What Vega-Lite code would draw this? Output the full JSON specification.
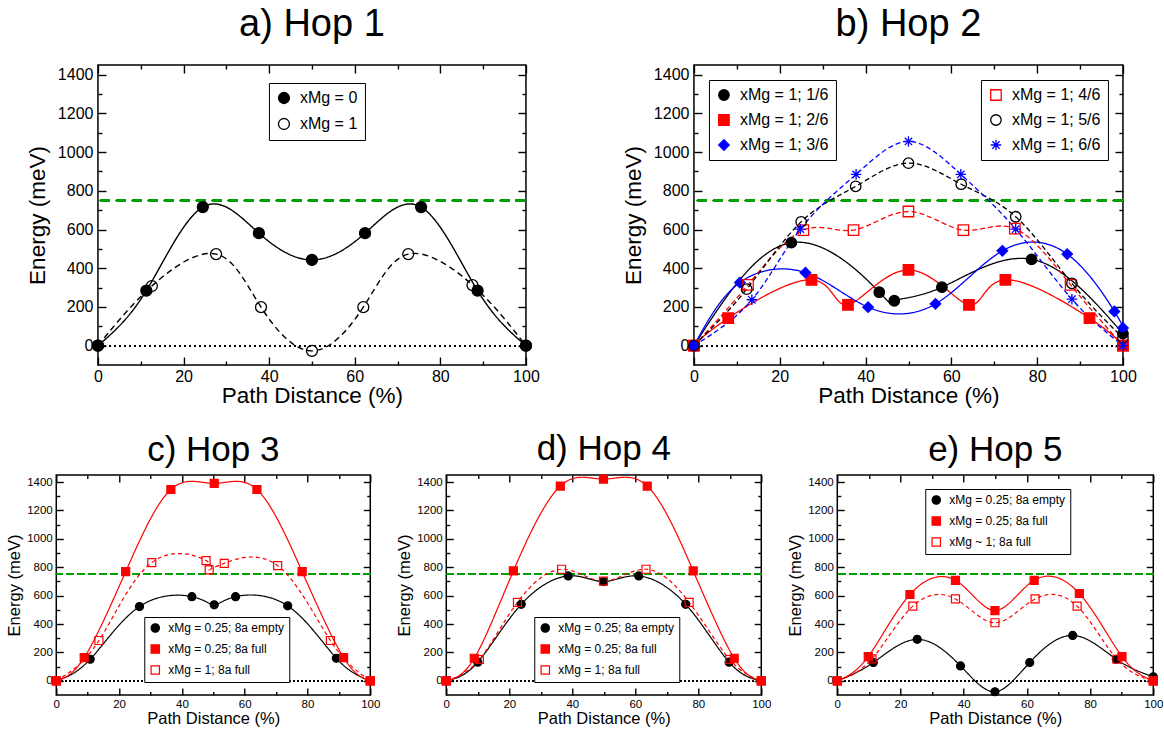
{
"$schema": "https://vega.github.io/schema/vega-lite/v6.json",
"padding": 5,
"background": "white",
"config": {
  "font": "Liberation Sans",
  "view": {"stroke": "black", "strokeWidth": 1.5},
  "axis": {"domain": false, "grid": false, "labelColor": "black", "titleColor": "black", "tickColor": "black", "tickWidth": 1.4, "titleFontWeight": "normal", "labelFont": "Liberation Sans", "titleFont": "Liberation Sans"},
  "legend": {"labelFont": "Liberation Sans", "labelColor": "black", "strokeColor": "black", "fillColor": "white"},
  "title": {"font": "Liberation Sans", "fontWeight": "normal", "color": "black"}
},
"datasets": {
  "pts": [
    {"p":"a","s":"xMg = 0","x":0,"y":0},{"p":"a","s":"xMg = 0","x":11.3,"y":284},{"p":"a","s":"xMg = 0","x":24.5,"y":716},{"p":"a","s":"xMg = 0","x":37.6,"y":581},{"p":"a","s":"xMg = 0","x":50,"y":443},{"p":"a","s":"xMg = 0","x":62.4,"y":581},{"p":"a","s":"xMg = 0","x":75.5,"y":716},{"p":"a","s":"xMg = 0","x":88.7,"y":284},{"p":"a","s":"xMg = 0","x":100,"y":0},
    {"p":"a","s":"xMg = 1","x":0,"y":0},{"p":"a","s":"xMg = 1","x":12.6,"y":308},{"p":"a","s":"xMg = 1","x":27.6,"y":473},{"p":"a","s":"xMg = 1","x":38.1,"y":199},{"p":"a","s":"xMg = 1","x":50,"y":-27},{"p":"a","s":"xMg = 1","x":62,"y":199},{"p":"a","s":"xMg = 1","x":72.5,"y":473},{"p":"a","s":"xMg = 1","x":87.5,"y":313},{"p":"a","s":"xMg = 1","x":100,"y":0},

    {"p":"b","s":"xMg = 1; 1/6","x":0,"y":0},{"p":"b","s":"xMg = 1; 1/6","x":22.7,"y":532},{"p":"b","s":"xMg = 1; 1/6","x":43.2,"y":276},{"p":"b","s":"xMg = 1; 1/6","x":46.7,"y":232},{"p":"b","s":"xMg = 1; 1/6","x":57.8,"y":302},{"p":"b","s":"xMg = 1; 1/6","x":78.7,"y":446},{"p":"b","s":"xMg = 1; 1/6","x":100,"y":62},
    {"p":"b","s":"xMg = 1; 2/6","x":0,"y":0},{"p":"b","s":"xMg = 1; 2/6","x":8,"y":142},{"p":"b","s":"xMg = 1; 2/6","x":27.4,"y":340},{"p":"b","s":"xMg = 1; 2/6","x":35.9,"y":211},{"p":"b","s":"xMg = 1; 2/6","x":50,"y":391},{"p":"b","s":"xMg = 1; 2/6","x":64.1,"y":211},{"p":"b","s":"xMg = 1; 2/6","x":72.6,"y":340},{"p":"b","s":"xMg = 1; 2/6","x":92.2,"y":142},{"p":"b","s":"xMg = 1; 2/6","x":100,"y":0},
    {"p":"b","s":"xMg = 1; 3/6","x":0,"y":0},{"p":"b","s":"xMg = 1; 3/6","x":10.7,"y":326},{"p":"b","s":"xMg = 1; 3/6","x":26,"y":377},{"p":"b","s":"xMg = 1; 3/6","x":40.6,"y":199},{"p":"b","s":"xMg = 1; 3/6","x":56.3,"y":216},{"p":"b","s":"xMg = 1; 3/6","x":71.9,"y":490},{"p":"b","s":"xMg = 1; 3/6","x":87,"y":473},{"p":"b","s":"xMg = 1; 3/6","x":98,"y":177},{"p":"b","s":"xMg = 1; 3/6","x":100,"y":91},
    {"p":"b","s":"xMg = 1; 4/6","x":0,"y":0},{"p":"b","s":"xMg = 1; 4/6","x":12.6,"y":314},{"p":"b","s":"xMg = 1; 4/6","x":25.5,"y":597},{"p":"b","s":"xMg = 1; 4/6","x":37.2,"y":597},{"p":"b","s":"xMg = 1; 4/6","x":50,"y":693},{"p":"b","s":"xMg = 1; 4/6","x":62.8,"y":597},{"p":"b","s":"xMg = 1; 4/6","x":74.8,"y":605},{"p":"b","s":"xMg = 1; 4/6","x":87.8,"y":314},{"p":"b","s":"xMg = 1; 4/6","x":100,"y":0},
    {"p":"b","s":"xMg = 1; 5/6","x":0,"y":0},{"p":"b","s":"xMg = 1; 5/6","x":12.3,"y":292},{"p":"b","s":"xMg = 1; 5/6","x":25,"y":640},{"p":"b","s":"xMg = 1; 5/6","x":37.7,"y":823},{"p":"b","s":"xMg = 1; 5/6","x":50,"y":943},{"p":"b","s":"xMg = 1; 5/6","x":62.3,"y":834},{"p":"b","s":"xMg = 1; 5/6","x":75,"y":666},{"p":"b","s":"xMg = 1; 5/6","x":88.1,"y":322},{"p":"b","s":"xMg = 1; 5/6","x":100,"y":40},
    {"p":"b","s":"xMg = 1; 6/6","x":0,"y":0},{"p":"b","s":"xMg = 1; 6/6","x":13.5,"y":237},{"p":"b","s":"xMg = 1; 6/6","x":24.8,"y":602},{"p":"b","s":"xMg = 1; 6/6","x":37.8,"y":885},{"p":"b","s":"xMg = 1; 6/6","x":50,"y":1055},{"p":"b","s":"xMg = 1; 6/6","x":62.2,"y":885},{"p":"b","s":"xMg = 1; 6/6","x":75,"y":602},{"p":"b","s":"xMg = 1; 6/6","x":88.1,"y":240},{"p":"b","s":"xMg = 1; 6/6","x":100,"y":0},

    {"p":"c","s":"xMg = 0.25; 8a empty","x":0,"y":0},{"p":"c","s":"xMg = 0.25; 8a empty","x":10.8,"y":152},{"p":"c","s":"xMg = 0.25; 8a empty","x":26.5,"y":523},{"p":"c","s":"xMg = 0.25; 8a empty","x":43.2,"y":593},{"p":"c","s":"xMg = 0.25; 8a empty","x":50.3,"y":535},{"p":"c","s":"xMg = 0.25; 8a empty","x":57.1,"y":593},{"p":"c","s":"xMg = 0.25; 8a empty","x":73.7,"y":528},{"p":"c","s":"xMg = 0.25; 8a empty","x":89.2,"y":159},{"p":"c","s":"xMg = 0.25; 8a empty","x":100,"y":0},
    {"p":"c","s":"xMg = 0.25; 8a full","x":0,"y":0},{"p":"c","s":"xMg = 0.25; 8a full","x":8.9,"y":164},{"p":"c","s":"xMg = 0.25; 8a full","x":22.1,"y":769},{"p":"c","s":"xMg = 0.25; 8a full","x":36.5,"y":1348},{"p":"c","s":"xMg = 0.25; 8a full","x":50.3,"y":1391},{"p":"c","s":"xMg = 0.25; 8a full","x":63.9,"y":1348},{"p":"c","s":"xMg = 0.25; 8a full","x":78.3,"y":769},{"p":"c","s":"xMg = 0.25; 8a full","x":91.5,"y":164},{"p":"c","s":"xMg = 0.25; 8a full","x":100,"y":0},
    {"p":"c","s":"xMg = 1; 8a full","x":0,"y":0},{"p":"c","s":"xMg = 1; 8a full","x":13.6,"y":284},{"p":"c","s":"xMg = 1; 8a full","x":30.4,"y":833},{"p":"c","s":"xMg = 1; 8a full","x":47.7,"y":847},{"p":"c","s":"xMg = 1; 8a full","x":48.7,"y":781},{"p":"c","s":"xMg = 1; 8a full","x":53.5,"y":828},{"p":"c","s":"xMg = 1; 8a full","x":70.5,"y":811},{"p":"c","s":"xMg = 1; 8a full","x":87.3,"y":284},{"p":"c","s":"xMg = 1; 8a full","x":100,"y":0},

    {"p":"d","s":"xMg = 0.25; 8a empty","x":0,"y":0},{"p":"d","s":"xMg = 0.25; 8a empty","x":10,"y":131},{"p":"d","s":"xMg = 0.25; 8a empty","x":23.8,"y":539},{"p":"d","s":"xMg = 0.25; 8a empty","x":38.7,"y":739},{"p":"d","s":"xMg = 0.25; 8a empty","x":49.9,"y":699},{"p":"d","s":"xMg = 0.25; 8a empty","x":61.1,"y":739},{"p":"d","s":"xMg = 0.25; 8a empty","x":76,"y":539},{"p":"d","s":"xMg = 0.25; 8a empty","x":89.8,"y":131},{"p":"d","s":"xMg = 0.25; 8a empty","x":100,"y":0},
    {"p":"d","s":"xMg = 0.25; 8a full","x":0,"y":0},{"p":"d","s":"xMg = 0.25; 8a full","x":8.9,"y":159},{"p":"d","s":"xMg = 0.25; 8a full","x":21.3,"y":774},{"p":"d","s":"xMg = 0.25; 8a full","x":36.2,"y":1372},{"p":"d","s":"xMg = 0.25; 8a full","x":49.9,"y":1421},{"p":"d","s":"xMg = 0.25; 8a full","x":63.8,"y":1372},{"p":"d","s":"xMg = 0.25; 8a full","x":78.4,"y":774},{"p":"d","s":"xMg = 0.25; 8a full","x":91.4,"y":159},{"p":"d","s":"xMg = 0.25; 8a full","x":100,"y":0},
    {"p":"d","s":"xMg = 1; 8a full","x":0,"y":0},{"p":"d","s":"xMg = 1; 8a full","x":10.5,"y":150},{"p":"d","s":"xMg = 1; 8a full","x":22.6,"y":553},{"p":"d","s":"xMg = 1; 8a full","x":36.6,"y":786},{"p":"d","s":"xMg = 1; 8a full","x":49.9,"y":703},{"p":"d","s":"xMg = 1; 8a full","x":63.4,"y":786},{"p":"d","s":"xMg = 1; 8a full","x":77.1,"y":553},{"p":"d","s":"xMg = 1; 8a full","x":90,"y":150},{"p":"d","s":"xMg = 1; 8a full","x":100,"y":0},

    {"p":"e","s":"xMg = 0.25; 8a empty","x":0,"y":0},{"p":"e","s":"xMg = 0.25; 8a empty","x":11.4,"y":129},{"p":"e","s":"xMg = 0.25; 8a empty","x":25.3,"y":292},{"p":"e","s":"xMg = 0.25; 8a empty","x":39,"y":105},{"p":"e","s":"xMg = 0.25; 8a empty","x":49.9,"y":-77},{"p":"e","s":"xMg = 0.25; 8a empty","x":60.9,"y":129},{"p":"e","s":"xMg = 0.25; 8a empty","x":74.5,"y":320},{"p":"e","s":"xMg = 0.25; 8a empty","x":88.3,"y":152},{"p":"e","s":"xMg = 0.25; 8a empty","x":100,"y":28},
    {"p":"e","s":"xMg = 0.25; 8a full","x":0,"y":0},{"p":"e","s":"xMg = 0.25; 8a full","x":9.8,"y":171},{"p":"e","s":"xMg = 0.25; 8a full","x":23,"y":608},{"p":"e","s":"xMg = 0.25; 8a full","x":37.4,"y":708},{"p":"e","s":"xMg = 0.25; 8a full","x":49.9,"y":495},{"p":"e","s":"xMg = 0.25; 8a full","x":62.3,"y":708},{"p":"e","s":"xMg = 0.25; 8a full","x":76.6,"y":615},{"p":"e","s":"xMg = 0.25; 8a full","x":90.1,"y":171},{"p":"e","s":"xMg = 0.25; 8a full","x":100,"y":0},
    {"p":"e","s":"xMg ~ 1; 8a full","x":0,"y":0},{"p":"e","s":"xMg ~ 1; 8a full","x":11,"y":155},{"p":"e","s":"xMg ~ 1; 8a full","x":23.9,"y":526},{"p":"e","s":"xMg ~ 1; 8a full","x":37.4,"y":577},{"p":"e","s":"xMg ~ 1; 8a full","x":49.9,"y":409},{"p":"e","s":"xMg ~ 1; 8a full","x":62.6,"y":577},{"p":"e","s":"xMg ~ 1; 8a full","x":75.9,"y":526},{"p":"e","s":"xMg ~ 1; 8a full","x":88.5,"y":152},{"p":"e","s":"xMg ~ 1; 8a full","x":100,"y":0}
  ]
},
"data": {"name": "pts"},
"resolve": {"scale": {"shape": "independent", "fill": "independent", "stroke": "independent", "strokeDash": "independent"}},
"center": true,
"spacing": 22,
"vconcat": [
{
 "spacing": 80,
 "resolve": {"scale": {"shape": "independent", "fill": "independent", "stroke": "independent", "strokeDash": "independent"}},
 "hconcat": [
  {
   "title": {"text": "a) Hop 1", "fontSize": 38, "offset": 20},
   "width": 428, "height": 300,
   "resolve": {"scale": {"shape": "independent", "fill": "independent", "stroke": "independent", "strokeDash": "independent"}},
   "layer": [
    {"mark": {"type": "rule", "stroke": "#00a000", "strokeWidth": 1.5, "strokeDash": [10, 6]}, "encoding": {"y": {"datum": 750, "type": "quantitative", "axis": null}}},
    {"mark": {"type": "rule", "stroke": "black", "strokeWidth": 1.2, "strokeDash": [1.5, 3.5]}, "encoding": {"y": {"datum": 0, "type": "quantitative", "axis": null}}},
    {"transform": [{"filter": "datum.p === 'a'"}],
     "mark": {"type": "line", "interpolate": "natural", "strokeWidth": 1.4, "clip": true},
     "encoding": {
      "x": {"field": "x", "type": "quantitative", "scale": {"domain": [0, 100], "nice": false, "zero": false},
            "axis": {"orient": "bottom", "values": [0,10,20,30,40,50,60,70,80,90,100], "format": "d", "labelExpr": "datum.value % 20 === 0 ? datum.label : ''", "title": "Path Distance (%)", "labelFontSize": 16, "titleFontSize": 22.5, "labelPadding": 11, "titlePadding": 0, "tickSize": -8, "labelFlush": false, "labelOverlap": false, "encoding": {"ticks": {"y2": {"condition": {"test": "datum.value % 20 === 0", "value": -8}, "value": -4}}}}},
      "y": {"field": "y", "type": "quantitative", "scale": {"domain": [-100, 1450], "nice": false, "zero": false},
            "axis": {"orient": "left", "values": [0,100,200,300,400,500,600,700,800,900,1000,1100,1200,1300,1400], "format": "d", "labelExpr": "datum.value % 200 === 0 ? datum.label : ''", "title": "Energy (meV)", "labelFontSize": 16, "titleFontSize": 22.5, "labelPadding": 13, "titlePadding": 8, "tickSize": -8, "labelOverlap": false, "encoding": {"ticks": {"x2": {"condition": {"test": "datum.value % 200 === 0", "value": 8}, "value": 4}}}}},
      "stroke": {"field": "s", "type": "nominal", "scale": {"domain": ["xMg = 0", "xMg = 1"], "range": ["black", "black"]}, "legend": null},
      "strokeDash": {"field": "s", "type": "nominal", "scale": {"domain": ["xMg = 0", "xMg = 1"], "range": [[1, 0], [6, 4]]}, "legend": null}
     }},
    {"transform": [{"filter": "datum.p === 'a'"}],
     "mark": {"type": "point", "opacity": 1, "size": 120, "strokeWidth": 1.3},
     "encoding": {
      "x": {"field": "x", "type": "quantitative", "axis": {"orient": "top", "values": [0,10,20,30,40,50,60,70,80,90,100], "labels": false, "title": null, "tickSize": -8, "encoding": {"ticks": {"y2": {"condition": {"test": "datum.value % 20 === 0", "value": 8}, "value": 4}}}}},
      "y": {"field": "y", "type": "quantitative", "axis": {"orient": "right", "values": [0,100,200,300,400,500,600,700,800,900,1000,1100,1200,1300,1400], "labels": false, "title": null, "tickSize": -8, "encoding": {"ticks": {"x2": {"condition": {"test": "datum.value % 200 === 0", "value": -8}, "value": -4}}}}},
      "shape": {"field": "s", "type": "nominal", "scale": {"domain": ["xMg = 0", "xMg = 1"], "range": ["circle", "circle"]}, "legend": {"orient": "none", "legendX": 171, "legendY": 18, "title": null, "labelFontSize": 16, "symbolSize": 120, "symbolStrokeWidth": 1.3, "rowPadding": 8, "padding": 7, "labelOffset": 8}},
      "fill": {"field": "s", "type": "nominal", "scale": {"domain": ["xMg = 0", "xMg = 1"], "range": ["black", "transparent"]}, "legend": {"orient": "none", "legendX": 171, "legendY": 18, "title": null, "labelFontSize": 16, "symbolSize": 120, "symbolStrokeWidth": 1.3, "rowPadding": 8, "padding": 7, "labelOffset": 8}},
      "stroke": {"field": "s", "type": "nominal", "scale": {"domain": ["xMg = 0", "xMg = 1"], "range": ["black", "black"]}, "legend": {"orient": "none", "legendX": 171, "legendY": 18, "title": null, "labelFontSize": 16, "symbolSize": 120, "symbolStrokeWidth": 1.3, "rowPadding": 8, "padding": 7, "labelOffset": 8}}
     }}
   ]
  },
  {
   "title": {"text": "b) Hop 2", "fontSize": 38, "offset": 20},
   "width": 429, "height": 300,
   "resolve": {"scale": {"shape": "independent", "fill": "independent", "stroke": "independent", "strokeDash": "independent"}},
   "layer": [
    {"mark": {"type": "rule", "stroke": "#00a000", "strokeWidth": 1.5, "strokeDash": [10, 6]}, "encoding": {"y": {"datum": 750, "type": "quantitative", "axis": null}}},
    {"mark": {"type": "rule", "stroke": "black", "strokeWidth": 1.2, "strokeDash": [1.5, 3.5]}, "encoding": {"y": {"datum": 0, "type": "quantitative", "axis": null}}},
    {"transform": [{"filter": "datum.p === 'b'"}],
     "mark": {"type": "line", "interpolate": "natural", "strokeWidth": 1.3, "clip": true},
     "encoding": {
      "x": {"field": "x", "type": "quantitative", "scale": {"domain": [0, 100], "nice": false, "zero": false},
            "axis": {"orient": "bottom", "values": [0,10,20,30,40,50,60,70,80,90,100], "format": "d", "labelExpr": "datum.value % 20 === 0 ? datum.label : ''", "title": "Path Distance (%)", "labelFontSize": 16, "titleFontSize": 22.5, "labelPadding": 11, "titlePadding": 0, "tickSize": -8, "labelFlush": false, "labelOverlap": false, "encoding": {"ticks": {"y2": {"condition": {"test": "datum.value % 20 === 0", "value": -8}, "value": -4}}}}},
      "y": {"field": "y", "type": "quantitative", "scale": {"domain": [-100, 1450], "nice": false, "zero": false},
            "axis": {"orient": "left", "values": [0,100,200,300,400,500,600,700,800,900,1000,1100,1200,1300,1400], "format": "d", "labelExpr": "datum.value % 200 === 0 ? datum.label : ''", "title": "Energy (meV)", "labelFontSize": 16, "titleFontSize": 22.5, "labelPadding": 13, "titlePadding": 8, "tickSize": -8, "labelOverlap": false, "encoding": {"ticks": {"x2": {"condition": {"test": "datum.value % 200 === 0", "value": 8}, "value": 4}}}}},
      "stroke": {"field": "s", "type": "nominal", "scale": {"domain": ["xMg = 1; 1/6", "xMg = 1; 2/6", "xMg = 1; 3/6", "xMg = 1; 4/6", "xMg = 1; 5/6", "xMg = 1; 6/6"], "range": ["black", "#ff0000", "#0000ff", "#ff0000", "black", "#0000ff"]}, "legend": null},
      "strokeDash": {"field": "s", "type": "nominal", "scale": {"domain": ["xMg = 1; 1/6", "xMg = 1; 2/6", "xMg = 1; 3/6", "xMg = 1; 4/6", "xMg = 1; 5/6", "xMg = 1; 6/6"], "range": [[1, 0], [1, 0], [1, 0], [5, 3], [5, 3], [5, 3]]}, "legend": null}
     }},
    {"transform": [{"filter": "datum.p === 'b' && (datum.s === 'xMg = 1; 1/6' || datum.s === 'xMg = 1; 2/6' || datum.s === 'xMg = 1; 3/6')"}],
     "mark": {"type": "point", "opacity": 1, "size": 110, "strokeWidth": 1.3},
     "encoding": {
      "x": {"field": "x", "type": "quantitative", "axis": {"orient": "top", "values": [0,10,20,30,40,50,60,70,80,90,100], "labels": false, "title": null, "tickSize": -8, "encoding": {"ticks": {"y2": {"condition": {"test": "datum.value % 20 === 0", "value": 8}, "value": 4}}}}},
      "y": {"field": "y", "type": "quantitative", "axis": {"orient": "right", "values": [0,100,200,300,400,500,600,700,800,900,1000,1100,1200,1300,1400], "labels": false, "title": null, "tickSize": -8, "encoding": {"ticks": {"x2": {"condition": {"test": "datum.value % 200 === 0", "value": -8}, "value": -4}}}}},
      "shape": {"field": "s", "type": "nominal", "scale": {"domain": ["xMg = 1; 1/6", "xMg = 1; 2/6", "xMg = 1; 3/6"], "range": ["circle", "square", "diamond"]}, "legend": {"orient": "top-left", "offset": 15, "title": null, "labelFontSize": 16, "symbolSize": 110, "symbolStrokeWidth": 1.3, "rowPadding": 9, "padding": 7, "labelOffset": 8}},
      "fill": {"field": "s", "type": "nominal", "scale": {"domain": ["xMg = 1; 1/6", "xMg = 1; 2/6", "xMg = 1; 3/6"], "range": ["black", "#ff0000", "#0000ff"]}, "legend": {"orient": "top-left", "offset": 15, "title": null, "labelFontSize": 16, "symbolSize": 110, "symbolStrokeWidth": 1.3, "rowPadding": 9, "padding": 7, "labelOffset": 8}},
      "stroke": {"field": "s", "type": "nominal", "scale": {"domain": ["xMg = 1; 1/6", "xMg = 1; 2/6", "xMg = 1; 3/6"], "range": ["black", "#ff0000", "#0000ff"]}, "legend": {"orient": "top-left", "offset": 15, "title": null, "labelFontSize": 16, "symbolSize": 110, "symbolStrokeWidth": 1.3, "rowPadding": 9, "padding": 7, "labelOffset": 8}}
     }},
    {"transform": [{"filter": "datum.p === 'b' && (datum.s === 'xMg = 1; 4/6' || datum.s === 'xMg = 1; 5/6' || datum.s === 'xMg = 1; 6/6')"}],
     "mark": {"type": "point", "opacity": 1, "size": 110, "strokeWidth": 1.3},
     "encoding": {
      "x": {"field": "x", "type": "quantitative", "axis": null},
      "y": {"field": "y", "type": "quantitative", "axis": null},
      "shape": {"field": "s", "type": "nominal", "scale": {"domain": ["xMg = 1; 4/6", "xMg = 1; 5/6", "xMg = 1; 6/6"], "range": ["square", "circle", "M0,-1L0,1M-1,0L1,0M-0.7,-0.7L0.7,0.7M-0.7,0.7L0.7,-0.7"]}, "legend": {"orient": "top-right", "offset": 15, "title": null, "labelFontSize": 16, "symbolSize": 110, "symbolStrokeWidth": 1.3, "rowPadding": 9, "padding": 7, "labelOffset": 8}},
      "fill": {"field": "s", "type": "nominal", "scale": {"domain": ["xMg = 1; 4/6", "xMg = 1; 5/6", "xMg = 1; 6/6"], "range": ["transparent", "transparent", "transparent"]}, "legend": {"orient": "top-right", "offset": 15, "title": null, "labelFontSize": 16, "symbolSize": 110, "symbolStrokeWidth": 1.3, "rowPadding": 9, "padding": 7, "labelOffset": 8}},
      "stroke": {"field": "s", "type": "nominal", "scale": {"domain": ["xMg = 1; 4/6", "xMg = 1; 5/6", "xMg = 1; 6/6"], "range": ["#ff0000", "black", "#0000ff"]}, "legend": {"orient": "top-right", "offset": 15, "title": null, "labelFontSize": 16, "symbolSize": 110, "symbolStrokeWidth": 1.3, "rowPadding": 9, "padding": 7, "labelOffset": 8}}
     }}
   ]
  }
 ]
},
{
 "spacing": 14,
 "resolve": {"scale": {"shape": "independent", "fill": "independent", "stroke": "independent", "strokeDash": "independent"}},
 "hconcat": [
  {
   "title": {"text": "c) Hop 3", "fontSize": 35, "offset": 6},
   "width": 314, "height": 220,
   "resolve": {"scale": {"shape": "independent", "fill": "independent", "stroke": "independent", "strokeDash": "independent"}},
   "layer": [
    {"mark": {"type": "rule", "stroke": "#00a000", "strokeWidth": 1.3, "strokeDash": [7, 4]}, "encoding": {"y": {"datum": 750, "type": "quantitative", "axis": null}}},
    {"mark": {"type": "rule", "stroke": "black", "strokeWidth": 1, "strokeDash": [1.2, 2.8]}, "encoding": {"y": {"datum": 0, "type": "quantitative", "axis": null}}},
    {"transform": [{"filter": "datum.p === 'c'"}],
     "mark": {"type": "line", "interpolate": "natural", "strokeWidth": 1.2, "clip": true},
     "encoding": {
      "x": {"field": "x", "type": "quantitative", "scale": {"domain": [0, 100], "nice": false, "zero": false},
            "axis": {"orient": "bottom", "values": [0,10,20,30,40,50,60,70,80,90,100], "format": "d", "labelExpr": "datum.value % 20 === 0 ? datum.label : ''", "title": "Path Distance (%)", "labelFontSize": 11.5, "titleFontSize": 16.5, "labelPadding": 10, "titlePadding": 1, "tickSize": -7, "labelFlush": false, "labelOverlap": false, "encoding": {"ticks": {"y2": {"condition": {"test": "datum.value % 20 === 0", "value": -7}, "value": -3.5}}}}},
      "y": {"field": "y", "type": "quantitative", "scale": {"domain": [-100, 1450], "nice": false, "zero": false},
            "axis": {"orient": "left", "values": [0,100,200,300,400,500,600,700,800,900,1000,1100,1200,1300,1400], "format": "d", "labelExpr": "datum.value % 200 === 0 ? datum.label : ''", "title": "Energy (meV)", "labelFontSize": 11.5, "titleFontSize": 16.5, "labelPadding": 11, "titlePadding": 4, "tickSize": -7, "labelOverlap": false, "encoding": {"ticks": {"x2": {"condition": {"test": "datum.value % 200 === 0", "value": 7}, "value": 3.5}}}}},
      "stroke": {"field": "s", "type": "nominal", "scale": {"domain": ["xMg = 0.25; 8a empty", "xMg = 0.25; 8a full", "xMg = 1; 8a full"], "range": ["black", "#ff0000", "#ff0000"]}, "legend": null},
      "strokeDash": {"field": "s", "type": "nominal", "scale": {"domain": ["xMg = 0.25; 8a empty", "xMg = 0.25; 8a full", "xMg = 1; 8a full"], "range": [[1, 0], [1, 0], [4, 3]]}, "legend": null}
     }},
    {"transform": [{"filter": "datum.p === 'c'"}],
     "mark": {"type": "point", "opacity": 1, "size": 64, "strokeWidth": 1.2},
     "encoding": {
      "x": {"field": "x", "type": "quantitative", "axis": {"orient": "top", "values": [0,10,20,30,40,50,60,70,80,90,100], "labels": false, "title": null, "tickSize": -7, "encoding": {"ticks": {"y2": {"condition": {"test": "datum.value % 20 === 0", "value": 7}, "value": 3.5}}}}},
      "y": {"field": "y", "type": "quantitative", "axis": {"orient": "right", "values": [0,100,200,300,400,500,600,700,800,900,1000,1100,1200,1300,1400], "labels": false, "title": null, "tickSize": -7, "encoding": {"ticks": {"x2": {"condition": {"test": "datum.value % 200 === 0", "value": -7}, "value": -3.5}}}}},
      "shape": {"field": "s", "type": "nominal", "scale": {"domain": ["xMg = 0.25; 8a empty", "xMg = 0.25; 8a full", "xMg = 1; 8a full"], "range": ["circle", "square", "square"]}, "legend": {"orient": "none", "legendX": 88, "legendY": 142, "title": null, "labelFontSize": 12, "symbolSize": 70, "symbolStrokeWidth": 1.2, "rowPadding": 7, "padding": 5, "labelOffset": 7}},
      "fill": {"field": "s", "type": "nominal", "scale": {"domain": ["xMg = 0.25; 8a empty", "xMg = 0.25; 8a full", "xMg = 1; 8a full"], "range": ["black", "#ff0000", "transparent"]}, "legend": {"orient": "none", "legendX": 88, "legendY": 142, "title": null, "labelFontSize": 12, "symbolSize": 70, "symbolStrokeWidth": 1.2, "rowPadding": 7, "padding": 5, "labelOffset": 7}},
      "stroke": {"field": "s", "type": "nominal", "scale": {"domain": ["xMg = 0.25; 8a empty", "xMg = 0.25; 8a full", "xMg = 1; 8a full"], "range": ["black", "#ff0000", "#ff0000"]}, "legend": {"orient": "none", "legendX": 88, "legendY": 142, "title": null, "labelFontSize": 12, "symbolSize": 70, "symbolStrokeWidth": 1.2, "rowPadding": 7, "padding": 5, "labelOffset": 7}}
     }}
   ]
  },
  {
   "title": {"text": "d) Hop 4", "fontSize": 35, "offset": 6},
   "width": 315, "height": 220,
   "resolve": {"scale": {"shape": "independent", "fill": "independent", "stroke": "independent", "strokeDash": "independent"}},
   "layer": [
    {"mark": {"type": "rule", "stroke": "#00a000", "strokeWidth": 1.3, "strokeDash": [7, 4]}, "encoding": {"y": {"datum": 750, "type": "quantitative", "axis": null}}},
    {"mark": {"type": "rule", "stroke": "black", "strokeWidth": 1, "strokeDash": [1.2, 2.8]}, "encoding": {"y": {"datum": 0, "type": "quantitative", "axis": null}}},
    {"transform": [{"filter": "datum.p === 'd'"}],
     "mark": {"type": "line", "interpolate": "natural", "strokeWidth": 1.2, "clip": true},
     "encoding": {
      "x": {"field": "x", "type": "quantitative", "scale": {"domain": [0, 100], "nice": false, "zero": false},
            "axis": {"orient": "bottom", "values": [0,10,20,30,40,50,60,70,80,90,100], "format": "d", "labelExpr": "datum.value % 20 === 0 ? datum.label : ''", "title": "Path Distance (%)", "labelFontSize": 11.5, "titleFontSize": 16.5, "labelPadding": 10, "titlePadding": 1, "tickSize": -7, "labelFlush": false, "labelOverlap": false, "encoding": {"ticks": {"y2": {"condition": {"test": "datum.value % 20 === 0", "value": -7}, "value": -3.5}}}}},
      "y": {"field": "y", "type": "quantitative", "scale": {"domain": [-100, 1450], "nice": false, "zero": false},
            "axis": {"orient": "left", "values": [0,100,200,300,400,500,600,700,800,900,1000,1100,1200,1300,1400], "format": "d", "labelExpr": "datum.value % 200 === 0 ? datum.label : ''", "title": "Energy (meV)", "labelFontSize": 11.5, "titleFontSize": 16.5, "labelPadding": 11, "titlePadding": 4, "tickSize": -7, "labelOverlap": false, "encoding": {"ticks": {"x2": {"condition": {"test": "datum.value % 200 === 0", "value": 7}, "value": 3.5}}}}},
      "stroke": {"field": "s", "type": "nominal", "scale": {"domain": ["xMg = 0.25; 8a empty", "xMg = 0.25; 8a full", "xMg = 1; 8a full"], "range": ["black", "#ff0000", "#ff0000"]}, "legend": null},
      "strokeDash": {"field": "s", "type": "nominal", "scale": {"domain": ["xMg = 0.25; 8a empty", "xMg = 0.25; 8a full", "xMg = 1; 8a full"], "range": [[1, 0], [1, 0], [4, 3]]}, "legend": null}
     }},
    {"transform": [{"filter": "datum.p === 'd'"}],
     "mark": {"type": "point", "opacity": 1, "size": 64, "strokeWidth": 1.2},
     "encoding": {
      "x": {"field": "x", "type": "quantitative", "axis": {"orient": "top", "values": [0,10,20,30,40,50,60,70,80,90,100], "labels": false, "title": null, "tickSize": -7, "encoding": {"ticks": {"y2": {"condition": {"test": "datum.value % 20 === 0", "value": 7}, "value": 3.5}}}}},
      "y": {"field": "y", "type": "quantitative", "axis": {"orient": "right", "values": [0,100,200,300,400,500,600,700,800,900,1000,1100,1200,1300,1400], "labels": false, "title": null, "tickSize": -7, "encoding": {"ticks": {"x2": {"condition": {"test": "datum.value % 200 === 0", "value": -7}, "value": -3.5}}}}},
      "shape": {"field": "s", "type": "nominal", "scale": {"domain": ["xMg = 0.25; 8a empty", "xMg = 0.25; 8a full", "xMg = 1; 8a full"], "range": ["circle", "square", "square"]}, "legend": {"orient": "none", "legendX": 88, "legendY": 142, "title": null, "labelFontSize": 12, "symbolSize": 70, "symbolStrokeWidth": 1.2, "rowPadding": 7, "padding": 5, "labelOffset": 7}},
      "fill": {"field": "s", "type": "nominal", "scale": {"domain": ["xMg = 0.25; 8a empty", "xMg = 0.25; 8a full", "xMg = 1; 8a full"], "range": ["black", "#ff0000", "transparent"]}, "legend": {"orient": "none", "legendX": 88, "legendY": 142, "title": null, "labelFontSize": 12, "symbolSize": 70, "symbolStrokeWidth": 1.2, "rowPadding": 7, "padding": 5, "labelOffset": 7}},
      "stroke": {"field": "s", "type": "nominal", "scale": {"domain": ["xMg = 0.25; 8a empty", "xMg = 0.25; 8a full", "xMg = 1; 8a full"], "range": ["black", "#ff0000", "#ff0000"]}, "legend": {"orient": "none", "legendX": 88, "legendY": 142, "title": null, "labelFontSize": 12, "symbolSize": 70, "symbolStrokeWidth": 1.2, "rowPadding": 7, "padding": 5, "labelOffset": 7}}
     }}
   ]
  },
  {
   "title": {"text": "e) Hop 5", "fontSize": 35, "offset": 6},
   "width": 316, "height": 220,
   "resolve": {"scale": {"shape": "independent", "fill": "independent", "stroke": "independent", "strokeDash": "independent"}},
   "layer": [
    {"mark": {"type": "rule", "stroke": "#00a000", "strokeWidth": 1.3, "strokeDash": [7, 4]}, "encoding": {"y": {"datum": 750, "type": "quantitative", "axis": null}}},
    {"mark": {"type": "rule", "stroke": "black", "strokeWidth": 1, "strokeDash": [1.2, 2.8]}, "encoding": {"y": {"datum": 0, "type": "quantitative", "axis": null}}},
    {"transform": [{"filter": "datum.p === 'e'"}],
     "mark": {"type": "line", "interpolate": "natural", "strokeWidth": 1.2, "clip": true},
     "encoding": {
      "x": {"field": "x", "type": "quantitative", "scale": {"domain": [0, 100], "nice": false, "zero": false},
            "axis": {"orient": "bottom", "values": [0,10,20,30,40,50,60,70,80,90,100], "format": "d", "labelExpr": "datum.value % 20 === 0 ? datum.label : ''", "title": "Path Distance (%)", "labelFontSize": 11.5, "titleFontSize": 16.5, "labelPadding": 10, "titlePadding": 1, "tickSize": -7, "labelFlush": false, "labelOverlap": false, "encoding": {"ticks": {"y2": {"condition": {"test": "datum.value % 20 === 0", "value": -7}, "value": -3.5}}}}},
      "y": {"field": "y", "type": "quantitative", "scale": {"domain": [-100, 1450], "nice": false, "zero": false},
            "axis": {"orient": "left", "values": [0,100,200,300,400,500,600,700,800,900,1000,1100,1200,1300,1400], "format": "d", "labelExpr": "datum.value % 200 === 0 ? datum.label : ''", "title": "Energy (meV)", "labelFontSize": 11.5, "titleFontSize": 16.5, "labelPadding": 11, "titlePadding": 4, "tickSize": -7, "labelOverlap": false, "encoding": {"ticks": {"x2": {"condition": {"test": "datum.value % 200 === 0", "value": 7}, "value": 3.5}}}}},
      "stroke": {"field": "s", "type": "nominal", "scale": {"domain": ["xMg = 0.25; 8a empty", "xMg = 0.25; 8a full", "xMg ~ 1; 8a full"], "range": ["black", "#ff0000", "#ff0000"]}, "legend": null},
      "strokeDash": {"field": "s", "type": "nominal", "scale": {"domain": ["xMg = 0.25; 8a empty", "xMg = 0.25; 8a full", "xMg ~ 1; 8a full"], "range": [[1, 0], [1, 0], [4, 3]]}, "legend": null}
     }},
    {"transform": [{"filter": "datum.p === 'e'"}],
     "mark": {"type": "point", "opacity": 1, "size": 64, "strokeWidth": 1.2},
     "encoding": {
      "x": {"field": "x", "type": "quantitative", "axis": {"orient": "top", "values": [0,10,20,30,40,50,60,70,80,90,100], "labels": false, "title": null, "tickSize": -7, "encoding": {"ticks": {"y2": {"condition": {"test": "datum.value % 20 === 0", "value": 7}, "value": 3.5}}}}},
      "y": {"field": "y", "type": "quantitative", "axis": {"orient": "right", "values": [0,100,200,300,400,500,600,700,800,900,1000,1100,1200,1300,1400], "labels": false, "title": "\u00a0", "titleFontSize": 10, "titlePadding": 14, "tickSize": -7, "encoding": {"ticks": {"x2": {"condition": {"test": "datum.value % 200 === 0", "value": -7}, "value": -3.5}}}}},
      "shape": {"field": "s", "type": "nominal", "scale": {"domain": ["xMg = 0.25; 8a empty", "xMg = 0.25; 8a full", "xMg ~ 1; 8a full"], "range": ["circle", "square", "square"]}, "legend": {"orient": "none", "legendX": 88, "legendY": 14, "title": null, "labelFontSize": 12, "symbolSize": 70, "symbolStrokeWidth": 1.2, "rowPadding": 7, "padding": 5, "labelOffset": 7}},
      "fill": {"field": "s", "type": "nominal", "scale": {"domain": ["xMg = 0.25; 8a empty", "xMg = 0.25; 8a full", "xMg ~ 1; 8a full"], "range": ["black", "#ff0000", "transparent"]}, "legend": {"orient": "none", "legendX": 88, "legendY": 14, "title": null, "labelFontSize": 12, "symbolSize": 70, "symbolStrokeWidth": 1.2, "rowPadding": 7, "padding": 5, "labelOffset": 7}},
      "stroke": {"field": "s", "type": "nominal", "scale": {"domain": ["xMg = 0.25; 8a empty", "xMg = 0.25; 8a full", "xMg ~ 1; 8a full"], "range": ["black", "#ff0000", "#ff0000"]}, "legend": {"orient": "none", "legendX": 88, "legendY": 14, "title": null, "labelFontSize": 12, "symbolSize": 70, "symbolStrokeWidth": 1.2, "rowPadding": 7, "padding": 5, "labelOffset": 7}}
     }}
   ]
  }
 ]
}
]
}
